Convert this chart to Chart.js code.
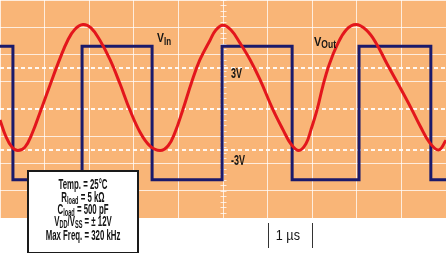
<!DOCTYPE html>
<html><head><meta charset="utf-8">
<script src="https://cdn.jsdelivr.net/npm/chart.js@4/dist/chart.umd.min.js"></script>
<style>html,body{margin:0;padding:0;background:#fff;overflow:hidden}</style>
</head><body>
<canvas id="c" width="446" height="253"></canvas>
<script>
// ---- data (time in µs, voltage in V) ----
const outTimes = [0,0.13,0.27,0.40,0.56,0.72,0.92,1.12,1.35,1.52,1.68,1.86,2.04,2.24,2.47,2.69,2.91,3.14,3.36,3.59,3.77,3.92,4.10,4.30,4.48,4.71,4.84,5.00,5.18,5.38,5.61,5.83,6.12,6.35,6.52,6.70,6.86,6.97,7.11,7.24,7.38,7.56,7.76,7.98,8.21,8.43,8.68,8.95,9.22,9.42,9.64,9.84,10.0];
const outVolts = [-0.8,-2.0,-2.8,-3.05,-2.8,-1.8,-0.05,1.75,3.75,5.05,5.85,6.2,5.95,5.05,3.6,1.85,-0.05,-1.7,-2.7,-3.05,-2.7,-1.75,-0.05,2.0,3.6,5.05,5.8,6.15,5.8,4.85,3.6,2.15,-0.05,-1.55,-2.55,-3.05,-2.55,-1.55,-0.05,1.7,3.25,4.7,5.8,6.2,5.8,4.85,3.3,1.7,0.05,-1.25,-2.5,-3.0,-2.3];
const sqTimes = [0,0.29,1.84,3.41,4.98,6.55,8.05,9.66,10];
const sqVolts = [4.6,-5.2,4.6,-5.2,4.6,-5.2,4.6,-5.2,-5.2];
const refLevels = [3,-3];
const refLabels = ['3V','-3V'];
const timeRange = [0,10];
const voltRange = [-8,8];
const scaleBar = [6,7];
const scaleBarLabel = '1 µs';
const infoLines = [
  [['Temp. = 25°C',0]],
  [['R',0],['load',1],[' = 5 kΩ',0]],
  [['C',0],['load',1],[' = 500 pF',0]],
  [['V',0],['DD',1],['/V',0],['SS',1],[' = ± 12V',0]],
  [['Max Freq. = 320 kHz',0]]
];

const F = "'Liberation Sans',Arial,sans-serif";
function rich(ctx, segs, x, y, align, sx, weight){
  const wt = weight || 'normal';
  let w = 0;
  segs.forEach(s=>{ctx.font = `${wt} ${s.size}px ${F}`; s._w = ctx.measureText(s.t).width; w += s._w;});
  ctx.save(); ctx.translate(x,y); ctx.scale(sx,1);
  ctx.textAlign='left'; ctx.textBaseline='alphabetic';
  let cx = align==='center' ? -w/2 : 0;
  segs.forEach(s=>{ctx.font = `${wt} ${s.size}px ${F}`; ctx.fillText(s.t, cx, s.dy||0); cx += s._w;});
  ctx.restore();
}

const scopePlugin = {
  id:'scope',
  beforeDraw(chart){
    const {ctx, chartArea:a} = chart;
    ctx.save(); ctx.fillStyle='#fff'; ctx.fillRect(0,0,chart.width,chart.height);
    ctx.fillStyle='#f9b577'; ctx.fillRect(a.left,a.top,a.right-a.left,a.bottom-a.top); ctx.restore();
  },
  beforeDatasetsDraw(chart){
    const {ctx, chartArea:a, scales:{x,y}} = chart;
    ctx.save();
    ctx.strokeStyle='rgba(255,255,255,0.9)'; ctx.lineWidth=2; ctx.setLineDash([4,3]);
    [0, ...refLevels].forEach(v=>{const py=Math.round(y.getPixelForValue(v)); ctx.beginPath(); ctx.moveTo(a.left,py); ctx.lineTo(a.right,py); ctx.stroke();});
    ctx.setLineDash([]);
    const cx = Math.round(x.getPixelForValue(5))+0.5;
    ctx.strokeStyle='rgba(255,255,255,0.75)'; ctx.lineWidth=1;
    for(let v=voltRange[0]; v<=voltRange[1]+1e-6; v+=0.4){
      const py=Math.round(y.getPixelForValue(v))+0.5;
      ctx.beginPath(); ctx.moveTo(cx-3,py); ctx.lineTo(cx+3,py); ctx.stroke();
    }
    ctx.restore();
  },
  afterDraw(chart){
    const {ctx, scales:{x,y}} = chart;
    ctx.save();
    ctx.fillStyle='#141414';
    rich(ctx,[{t:'V',size:13},{t:'In',size:10,dy:3}], x.getPixelForValue(3.52), y.getPixelForValue(4.9),'left',0.8,'bold');
    rich(ctx,[{t:'V',size:13},{t:'Out',size:10,dy:2}], x.getPixelForValue(7.04), y.getPixelForValue(4.6),'left',0.85,'bold');
    rich(ctx,[{t:refLabels[0],size:15}], x.getPixelForValue(5.18), y.getPixelForValue(2.25),'left',0.6,'bold');
    rich(ctx,[{t:refLabels[1],size:15}], x.getPixelForValue(5.18), y.getPixelForValue(-4.1),'left',0.6,'bold');
    ctx.strokeStyle='#333'; ctx.lineWidth=1;
    scaleBar.forEach(t=>{const px=Math.round(x.getPixelForValue(t))+0.5; ctx.beginPath(); ctx.moveTo(px,223); ctx.lineTo(px,248); ctx.stroke();});
    rich(ctx,[{t:scaleBarLabel,size:14}], (x.getPixelForValue(scaleBar[0])+x.getPixelForValue(scaleBar[1]))/2 - 2, 240,'center',0.9);
    ctx.fillStyle='#fff'; ctx.fillRect(28,171,110,82);
    ctx.strokeStyle='#1a1a1a'; ctx.lineWidth=2; ctx.strokeRect(28,171,110,82);
    ctx.fillStyle='#141414';
    const bl=[189,201.5,213.5,226,240];
    infoLines.forEach((line,i)=>{
      rich(ctx, line.map(([t,sub])=>sub?{t,size:10,dy:2}:{t,size:14}), 83, bl[i],'center',0.56,'bold');
    });
    ctx.restore();
  }
};

new Chart(document.getElementById('c'),{
  type:'line',
  data:{datasets:[
    {label:'VOut', data: outTimes.map((t,i)=>({x:t,y:outVolts[i]})), borderColor:'#e3161c', borderWidth:3, pointRadius:0, tension:0.4, fill:false},
    {label:'VIn', data: sqTimes.map((t,i)=>({x:t,y:sqVolts[i]})), borderColor:'#1b1a6b', borderWidth:3, pointRadius:0, stepped:true, fill:false}
  ]},
  options:{
    responsive:false, animation:false, events:[],
    layout:{padding:{left:0,right:0,top:0,bottom:35}},
    plugins:{legend:{display:false}, tooltip:{enabled:false}},
    scales:{
      x:{type:'linear', min:timeRange[0], max:timeRange[1], ticks:{display:false, stepSize:1}, border:{display:false},
         grid:{drawTicks:false, color:'rgba(255,255,255,0.75)', lineWidth:1}},
      y:{type:'linear', min:voltRange[0], max:voltRange[1], ticks:{display:false, stepSize:2}, border:{display:false},
         grid:{drawTicks:false, color:(c)=> c.tick && c.tick.value===0 ? 'rgba(0,0,0,0)' : 'rgba(255,255,255,0.75)', lineWidth:1}}
    }
  },
  plugins:[scopePlugin]
});
</script>
</body></html>
